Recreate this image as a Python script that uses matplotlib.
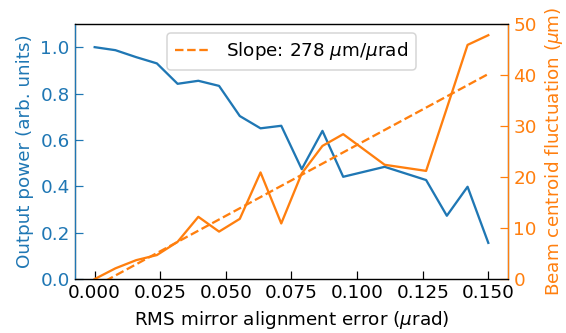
import matplotlib
matplotlib.use("Agg")
import matplotlib.pyplot as plt
import numpy as np

# misalignment scan results
rms_err = [0.0, 0.0079, 0.0158, 0.0237, 0.0316, 0.0395, 0.0474, 0.0553, 0.0632,
           0.0711, 0.0789, 0.0868, 0.0947, 0.1105, 0.1263, 0.1342, 0.1421, 0.15]
power = [1.0, 0.987, 0.957, 0.930, 0.842, 0.855, 0.833, 0.703, 0.650,
         0.661, 0.474, 0.639, 0.441, 0.484, 0.427, 0.273, 0.398, 0.156]
centroid = [0.0, 2.1, 3.7, 4.7, 7.3, 12.2, 9.3, 11.8, 20.9,
            10.9, 20.7, 26.1, 28.4, 22.4, 21.2, 33.5, 45.9, 47.8]

slope = 278.0
intercept = -1.5

c_pow = "C0"
c_cen = "C1"

dpi = 110
fig, ax = plt.subplots(figsize=(566 / dpi, 333 / dpi), dpi=dpi)
fig.subplots_adjust(left=0.1325, right=0.8975, top=0.928, bottom=0.162)

ax.plot(rms_err, power, color=c_pow, lw=1.5)
ax.set_ylim(0, 1.1)
ax.set_xlabel(r"RMS mirror alignment error ($\mu$rad)", fontsize=12)
ax.set_ylabel("Output power (arb. units)", color=c_pow, fontsize=12)
ax.tick_params(axis="y", colors=c_pow, direction="in", length=5, labelsize=12)
ax.tick_params(axis="x", direction="in", length=5, labelsize=12)
ax.set_xticks([0.0, 0.025, 0.05, 0.075, 0.1, 0.125, 0.15])

ax2 = ax.twinx()
ax2.plot(rms_err, centroid, color=c_cen, lw=1.5)
xs = np.array([rms_err[0], rms_err[-1]])
ax2.plot(xs, slope * xs + intercept, "--", color=c_cen, lw=1.5,
         label=r"Slope: %d $\mu$m/$\mu$rad" % slope)
ax2.set_ylim(0, 50)
ax2.set_ylabel(r"Beam centroid fluctuation ($\mu$m)", color=c_cen, fontsize=12)
ax2.tick_params(axis="y", colors=c_cen, direction="in", length=5, labelsize=12)
ax2.spines["left"].set_color(c_pow)
ax2.spines["right"].set_color(c_cen)
ax2.legend(loc="upper center", fontsize=12)

fig.savefig("out.png", dpi=dpi)
